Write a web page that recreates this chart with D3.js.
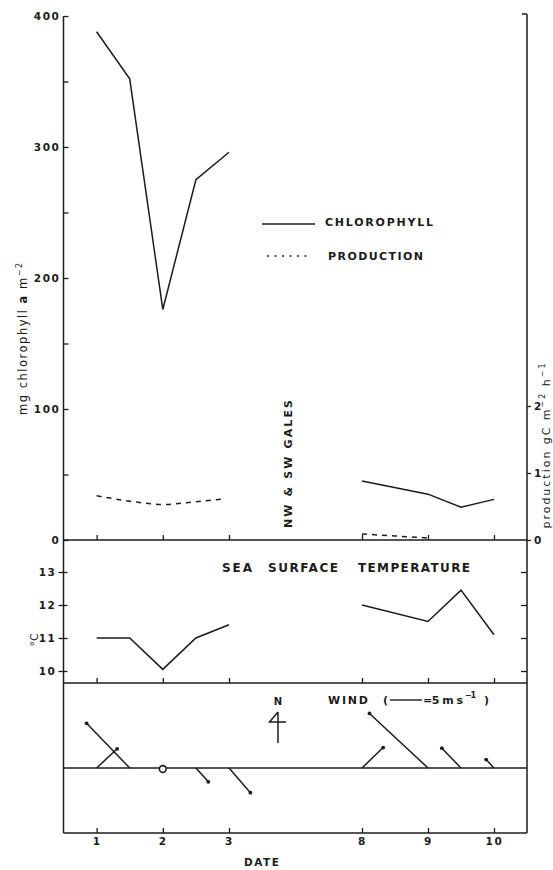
<!DOCTYPE html>
<html><head><meta charset="utf-8">
<script src="https://cdn.jsdelivr.net/npm/d3@7"></script>
<style>
body{margin:0;background:#fff}
text{font-family:"DejaVu Sans","Liberation Sans",sans-serif;fill:#1c1c1c}
</style>
</head><body>
<svg id="c" width="553" height="870"></svg>
<script>
// ---------- data ----------
const dateTicks = [1, 2, 3, 8, 9, 10];
const chlTicks = [0, 50, 100, 150, 200, 250, 300, 350, 400];
const prodTicks = [0, 1, 2];
const sstTicks = [10, 11, 12, 13];

const chlDates1 = [1, 1.5, 2, 2.5, 3];
const chlValues1 = [388, 352, 176, 275, 296];
const chlDates2 = [8, 9, 9.5, 10];
const chlValues2 = [45, 35, 25, 31];

const prodDates1 = [1, 1.5, 2, 2.5, 2.9];
const prodValues1 = [0.66, 0.58, 0.53, 0.57, 0.61];
const prodDates2 = [8, 8.5, 9];
const prodValues2 = [0.09, 0.06, 0.03];

const sstDates1 = [1, 1.5, 2, 2.5, 3];
const sstValues1 = [11.0, 11.0, 10.05, 11.0, 11.4];
const sstDates2 = [8, 9, 9.5, 10];
const sstValues2 = [12.0, 11.5, 12.45, 11.1];

const windDates = [1, 1.5, 2, 2.5, 3, 8, 9, 9.5, 10];
const windSpeed = [4.4, 9.7, 0, 2.9, 5.1, 4.6, 12.5, 4.3, 1.8];   // m/s
const windToward = [47, 316, 0, 138, 139, 46, 313, 316, 317];     // degrees from N
const windLegendSpeed = 5;

// ---------- layout ----------
const ink = "#1c1c1c";
const svg = d3.select("#c");
const xL = 63.5, xR = 527;
const yTopAxis = 14, y0 = 540, yTempBot = 683, yWindBase = 768, yBot = 833;

const x = d3.scaleLinear().domain([0.5, 3, 8, 10.5]).range([xL, 229, 362, xR]);
const yChl = d3.scaleLinear().domain([0, 400]).range([y0, 16]);
const yProd = d3.scaleLinear().domain([0, 1]).range([y0, 473]);
const ySST = d3.scaleLinear().domain([10, 13]).range([671, 572]);
const wLen = d3.scaleLinear().domain([0, 5]).range([0, 32]);

function styleAxis(g, fs) {
  g.select(".domain").remove();
  g.selectAll(".tick line").attr("stroke", ink).attr("stroke-width", 1.3);
  g.selectAll(".tick text").attr("fill", ink).attr("font-size", fs || 10.5)
    .attr("font-weight", "bold").attr("letter-spacing", 1.6)
    .attr("font-family", '"DejaVu Sans",sans-serif');
}

// frame lines
const frame = svg.append("g").attr("stroke", ink).attr("stroke-width", 1.5).attr("fill", "none");
frame.append("line").attr("x1", xL).attr("x2", xL).attr("y1", yChl(400)).attr("y2", yBot);
frame.append("line").attr("x1", xR).attr("x2", xR).attr("y1", yTopAxis).attr("y2", yBot);
frame.append("line").attr("x1", xR - 5).attr("x2", xR).attr("y1", yTopAxis).attr("y2", yTopAxis);
[y0, yTempBot, yWindBase, yBot].forEach(yy =>
  frame.append("line").attr("x1", xL).attr("x2", xR).attr("y1", yy).attr("y2", yy));

// left chlorophyll axis
svg.append("g").attr("transform", `translate(${xL},0)`)
  .call(d3.axisLeft(yChl).tickValues(chlTicks).tickSize(-5).tickPadding(3)
    .tickFormat(d => d % 100 === 0 ? d : ""))
  .call(g => styleAxis(g));

// right production axis
svg.append("g").attr("transform", `translate(${xR},0)`)
  .call(d3.axisRight(yProd).tickValues(prodTicks).tickSize(4).tickPadding(3).tickFormat(d3.format("d")))
  .call(g => styleAxis(g));

// SST axes
svg.append("g").attr("transform", `translate(${xL},0)`)
  .call(d3.axisLeft(ySST).tickValues(sstTicks).tickSize(5).tickPadding(2).tickFormat(d3.format("d")))
  .call(g => { styleAxis(g); g.selectAll(".tick line").attr("x1", 4); });
svg.append("g").attr("transform", `translate(${xR},0)`)
  .call(d3.axisLeft(ySST).tickValues(sstTicks).tickSize(6).tickFormat(""))
  .call(g => styleAxis(g));

// date ticks (pointing up) on each panel base
[y0, yTempBot, yBot].forEach(yy => {
  svg.append("g").attr("transform", `translate(0,${yy})`)
    .call(d3.axisTop(x).tickValues(dateTicks).tickSize(5).tickFormat(""))
    .call(g => styleAxis(g));
});
svg.append("g").attr("transform", `translate(0,${yBot})`)
  .call(d3.axisBottom(x).tickValues(dateTicks).tickSize(0).tickPadding(5))
  .call(g => styleAxis(g, 10.5));

// ---------- series ----------
const lineChl = d3.line().x(d => x(d[0])).y(d => yChl(d[1]));
const lineProd = d3.line().x(d => x(d[0])).y(d => yProd(d[1])).curve(d3.curveMonotoneX);
const lineSST = d3.line().x(d => x(d[0])).y(d => ySST(d[1]));

const series = svg.append("g").attr("fill", "none").attr("stroke", ink).attr("stroke-width", 1.5);
series.append("path").attr("d", lineChl(d3.zip(chlDates1, chlValues1)));
series.append("path").attr("d", lineChl(d3.zip(chlDates2, chlValues2)));
series.append("path").attr("d", lineProd(d3.zip(prodDates1, prodValues1))).attr("stroke-dasharray", "5,5");
series.append("path").attr("d", lineProd(d3.zip(prodDates2, prodValues2))).attr("stroke-dasharray", "5,5");
series.append("path").attr("d", lineSST(d3.zip(sstDates1, sstValues1)));
series.append("path").attr("d", lineSST(d3.zip(sstDates2, sstValues2)));

// wind vectors
const wg = svg.append("g");
windDates.forEach((d, i) => {
  const sx = x(d), sy = yWindBase;
  if (windSpeed[i] === 0) {
    wg.append("circle").attr("cx", sx).attr("cy", sy + 1).attr("r", 3.4)
      .attr("fill", "#fff").attr("stroke", ink).attr("stroke-width", 1.6);
    return;
  }
  const a = windToward[i] * Math.PI / 180, L = wLen(windSpeed[i]);
  const ex = sx + L * Math.sin(a), ey = sy - L * Math.cos(a);
  wg.append("line").attr("x1", sx).attr("y1", sy).attr("x2", ex).attr("y2", ey)
    .attr("stroke", ink).attr("stroke-width", 1.5);
  wg.append("circle").attr("cx", ex).attr("cy", ey).attr("r", 1.9).attr("fill", ink);
});

// ---------- texts ----------
function label(t, xx, yy, len, fs, extra) {
  const el = svg.append("text").attr("x", xx).attr("y", yy).attr("font-size", fs)
    .attr("font-weight", "bold").attr("fill", ink).text(t);
  if (len) el.attr("textLength", len).attr("lengthAdjust", "spacing");
  if (extra) extra(el);
  return el;
}

// legend
svg.append("line").attr("x1", 262).attr("x2", 315).attr("y1", 224).attr("y2", 224)
  .attr("stroke", ink).attr("stroke-width", 1.3);
svg.append("line").attr("x1", 267).attr("x2", 312).attr("y1", 256).attr("y2", 256)
  .attr("stroke", ink).attr("stroke-width", 1.4).attr("stroke-dasharray", "2,5.5");
label("CHLOROPHYLL", 325, 226, 108, 11);
label("PRODUCTION", 328, 260, 95, 11);

// gales note
label("NW & SW GALES", 0, 0, 128, 11, el =>
  el.attr("transform", "translate(292,528) rotate(-90)").attr("x", 0).attr("y", 0));

// SST title
label("SEA", 222, 571.5, 30, 12);
label("SURFACE", 268, 571.5, 70, 12);
label("TEMPERATURE", 358, 571.5, 112, 12);

// °C
label("°C", 0, 0, null, 11, el =>
  el.attr("transform", "translate(38,640) rotate(-90)").attr("text-anchor", "middle").attr("font-weight", "normal"));

// wind legend
label("WIND", 328, 704, 40, 11);
label("(", 383, 704, null, 11);
svg.append("line").attr("x1", 390).attr("x2", 390 + wLen(windLegendSpeed)).attr("y1", 700).attr("y2", 700)
  .attr("stroke", ink).attr("stroke-width", 1.4);
label("=5 m s", 423, 704, 40, 11);
label("−1", 465, 698, 11, 8);
label(")", 484, 704, null, 11);

// north arrow
label("N", 278, 705, null, 10, el => el.attr("text-anchor", "middle"));
svg.append("path").attr("d", "M278,712 L278,743 M278,712 L269.5,722 L286,722")
  .attr("fill", "none").attr("stroke", ink).attr("stroke-width", 1.5);

// DATE
label("DATE", 244, 866, 35, 10.5);

// left axis title
const lt = svg.append("text").attr("transform", "translate(27,339) rotate(-90)")
  .attr("text-anchor", "middle").attr("font-size", 11.5).attr("fill", ink)
  .attr("textLength", 152).attr("lengthAdjust", "spacing");
lt.append("tspan").text("mg chlorophyll ");
lt.append("tspan").attr("font-weight", "bold").text("a");
lt.append("tspan").text(" m");
lt.append("tspan").attr("font-size", 8).attr("dy", -5).text("−2");

// right axis title
const rt = svg.append("text").attr("transform", "translate(550,446) rotate(-90)")
  .attr("text-anchor", "middle").attr("font-size", 11).attr("fill", ink)
  .attr("textLength", 165).attr("lengthAdjust", "spacing");
rt.append("tspan").text("production gC m");
rt.append("tspan").attr("font-size", 8).attr("dy", -5).text("−2");
rt.append("tspan").attr("dy", 5).text(" h");
rt.append("tspan").attr("font-size", 8).attr("dy", -5).text("−1");
</script>
</body></html>
